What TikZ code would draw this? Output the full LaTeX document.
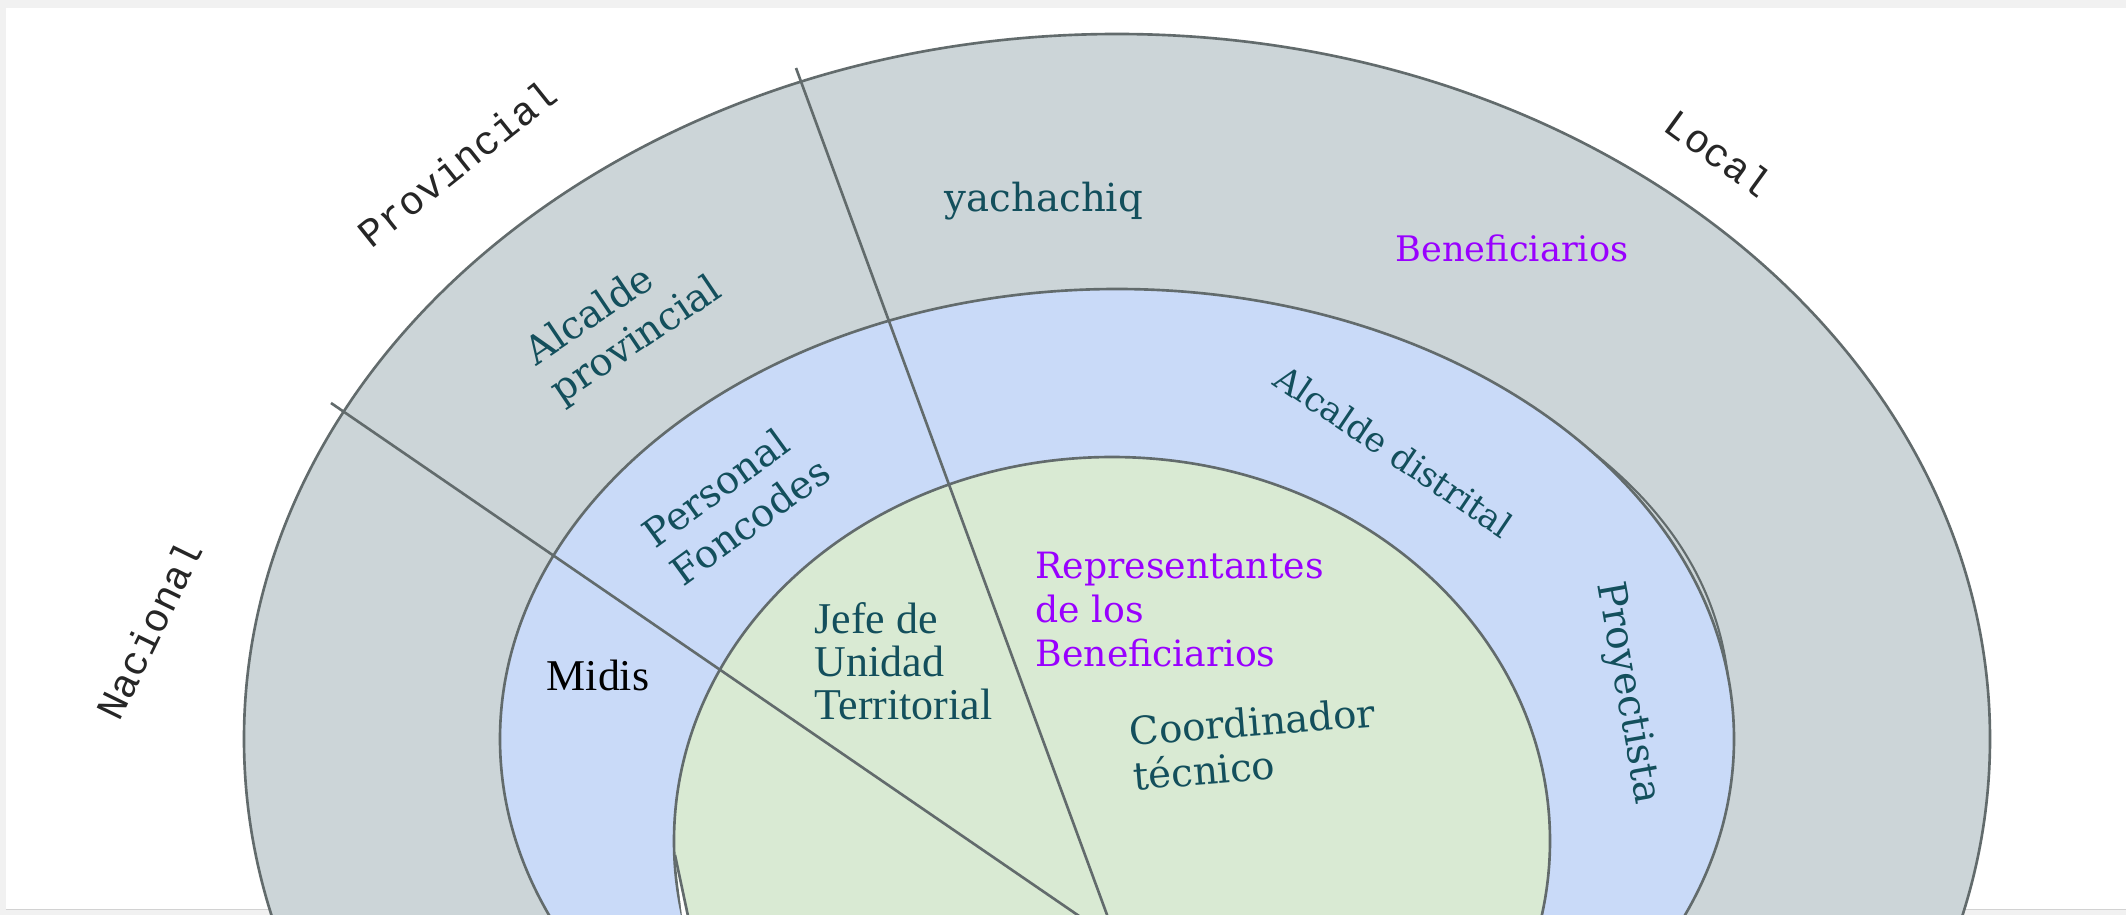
\documentclass[tikz,border=0pt]{standalone}
\usepackage{fontspec}
\setmainfont{DejaVu Serif}
\newfontfamily\levelfont{Liberation Mono}
\newfontfamily\plainfont{Liberation Serif}

\definecolor{ringgray}{HTML}{CCD5D8}
\definecolor{ringblue}{HTML}{C9DAF8}
\definecolor{ringgreen}{HTML}{D9EAD3}
\definecolor{rimline}{HTML}{626B6C}
\definecolor{darkteal}{HTML}{134F5C}
\definecolor{benefpurple}{HTML}{9900FF}
\definecolor{pagegray}{HTML}{F1F1F1}
\definecolor{framegray}{HTML}{D2D2D2}

\begin{document}
\begin{tikzpicture}
[x=0.01cm,y=-0.01cm,
  ringdecorate/.style={draw=rimline,line width=0.75pt},
  linedecorate/.style={-,draw=rimline,line width=0.75pt},
  levellabel/.style={font=\levelfont\fontsize{11.4}{13}\selectfont,text=black!85,inner sep=0pt},
  rolelabel/.style={text=darkteal,align=left,inner sep=0pt},
  beneflabel/.style={text=benefpurple,align=left,inner sep=0pt},
  plainlabel/.style={font=\plainfont\fontsize{12.5}{12.2}\selectfont,align=left,inner sep=0pt}]
%% page and frame
\useasboundingbox (0,0) rectangle (2126,915);
\fill[white] (0,0) rectangle (2126,915);
\fill[pagegray] (0,0) rectangle (2126,8);
\fill[pagegray] (0,0) rectangle (6,915);
\fill[pagegray] (6,909) rectangle (2126,915);
\draw[framegray] (6,909.5) -- (2126,909.5);
\begin{scope}
\clip (0,0) rectangle (2126,915);
%% rings, outer to inner
\path[ringdecorate,fill=ringgray] (1117,739) ellipse [x radius=873,y radius=705];
\path[ringdecorate,fill=ringblue] (1117,739) ellipse [x radius=617,y radius=450];
%% second rim just outside the middle ring, upper right
\draw[ringdecorate,line width=0.6pt] plot[domain=8:40,samples=40,smooth]
  ({1117+617*(1+0.009*sin(180*(\x-8)/32))*cos(\x)},
   {739-450*(1+0.009*sin(180*(\x-8)/32))*sin(\x)});
\path[ringdecorate,fill=ringgreen] (1112,841) ellipse [x radius=438,y radius=384];
%% small sliver at the lower left of the inner ring
\coordinate (sliverA) at (675,855);
\coordinate (sliverB) at (688,916);
\coordinate (sliverC) at (682,916);
\fill[white] (sliverA) -- (sliverB) -- (sliverC) -- cycle;
\draw[ringdecorate] (sliverA) -- (sliverB);
%% dividing lines
\coordinate (hub) at (1117,942);
\coordinate (nacprov) at (331,403);
\coordinate (provloc) at (796,68);
\path
\foreach \endnode in {nacprov, provloc}
{
  (hub) edge[linedecorate] (\endnode)
};
\end{scope}
%% level names
\foreach \nodename/\x/\y/\angle/\caption in {
  nacional/149/630/64/Nacional, provincial/457/163/38.6/Provincial,
  local/1719/153/-36/Local}
{
  \node (\nodename) at (\x,\y) [levellabel,rotate=\angle] {\caption};
}
%% roles on the rings
\foreach \nodename/\x/\y/\angle/\size/\skip/\caption in {
  alcprov/624/322/34/11/13/{Alcalde\\provincial},
  foncodes/736/502/36/11/13.4/{Personal\\Foncodes},
  yachachiq/1044/201/0/11/13/yachachiq,
  alcdist/1394/451/-34/9.8/12/{Alcalde distrital},
  proyectista/1627/693/-80/11.2/13/Proyectista,
  coordinador/1254/744/4.5/11/12.6/{Coordinador\\técnico}}
{
  \node (\nodename) at (\x,\y) [rolelabel,rotate=\angle,
    font=\fontsize{\size}{\skip}\selectfont] {\caption};
}
%% beneficiaries
\node (benef) at (1512,248) [beneflabel,font=\fontsize{10}{12}\selectfont] {Beneficiarios};
\node (repres) at (1035,610) [beneflabel,anchor=west,
  font=\fontsize{10.3}{12.5}\selectfont] {Representantes\\de los\\Beneficiarios};
%% plain serif names
\node (jefe) at (814,661) [plainlabel,text=darkteal,anchor=west] {Jefe de\\Unidad\\Territorial};
\node (midis) at (598,675) [plainlabel,text=black] {Midis};
\end{tikzpicture}
\end{document}
